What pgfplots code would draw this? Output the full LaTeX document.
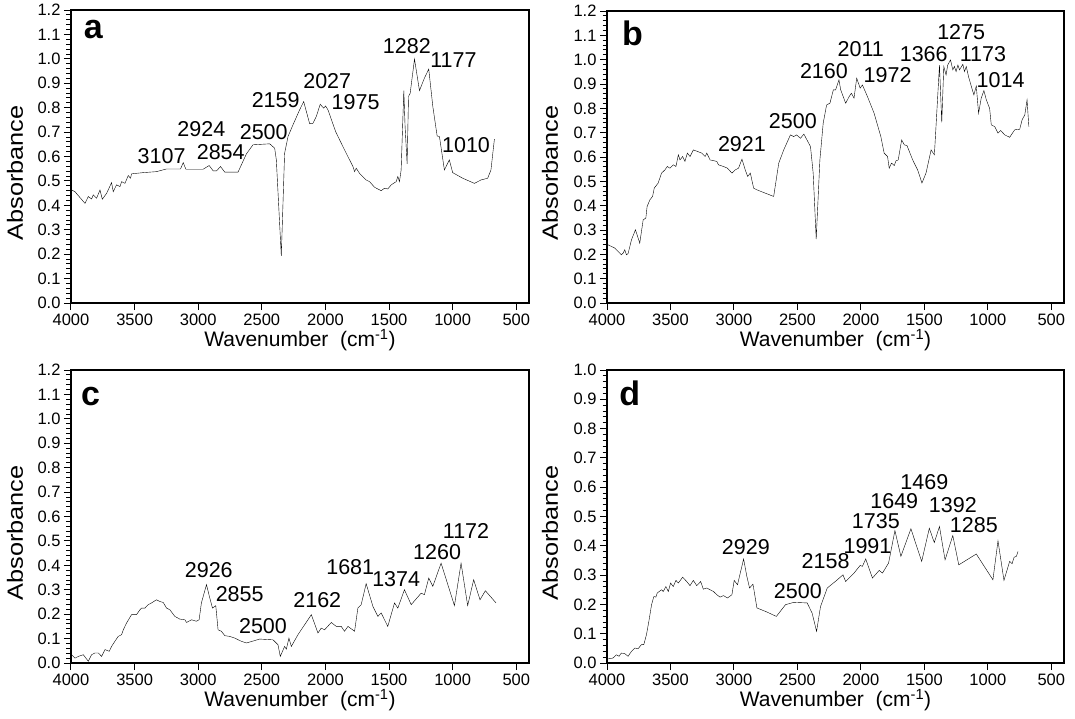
\documentclass[border=0pt]{standalone}
\usepackage{fontspec}
\setmainfont{Liberation Sans}
\usepackage{graphicx}
\usepackage{pgfplots}
\pgfplotsset{compat=1.18}

\newcommand\fsz[1]{\fontsize{#1}{#1}\selectfont}

\pgfplotsset{
  ftir/.style={
    scale only axis, width=458pt, height=293pt,
    x dir=reverse, xmin=400, xmax=4000, ymin=0,
    xtick={500,1000,...,4000},
    tick align=outside, xtick pos=bottom, ytick pos=left,
    major tick length=7pt, minor tick length=4.5pt,
    every major tick/.style={black, line width=1pt},
    every minor tick/.style={black, line width=0.9pt},
    axis line style={line width=1.3pt},
    tick label style={font=\fsz{16.5}},
    /pgf/number format/assume math mode=true,
    xticklabel style={/pgf/number format/1000 sep={}},
    yticklabel style={/pgf/number format/.cd, fixed, fixed zerofill, precision=1},
    cycle list={{black, line width=1.1pt, line join=round, mark=none}},
    clip=false,
  },
}
\tikzset{
  pk/.style={font=\fsz{21.5}, inner sep=0pt},
  plet/.style={font=\fsz{34}\bfseries, inner sep=0pt},
}

\begin{document}
\begin{tikzpicture}
\path[use as bounding box] (0,0) rectangle (1075pt,-718pt);

% ---- a ----
\begin{axis}[ftir, at={(71pt,-303pt)}, ymax=1.2, ytick={0,0.1,...,1.2}, minor ytick={0.02,0.04,...,1.19}]
\addplot coordinates {(3995,0.463) (3969,0.456) (3890,0.408) (3864,0.436) (3838,0.426) (3825,0.443) (3799,0.429) (3772,0.463) (3754,0.425) (3720,0.449) (3681,0.493) (3668,0.456) (3642,0.484) (3615,0.477) (3602,0.497) (3576,0.490) (3550,0.522) (3532,0.511) (3524,0.529) (3432,0.534) (3328,0.538) (3249,0.549) (3139,0.549) (3118,0.575) (3097,0.548) (2961,0.548) (2914,0.563) (2882,0.541) (2856,0.541) (2825,0.559) (2791,0.536) (2687,0.536) (2621,0.611) (2569,0.648) (2438,0.652) (2399,0.634) (2386,0.586) (2347,0.193) (2321,0.613) (2294,0.682) (2255,0.730) (2203,0.791) (2171,0.825) (2124,0.734) (2098,0.736) (2072,0.764) (2041,0.814) (2014,0.798) (1999,0.807) (1980,0.791) (1920,0.702) (1863,0.641) (1784,0.559) (1771,0.538) (1758,0.552) (1732,0.531) (1680,0.504) (1653,0.497) (1614,0.474) (1562,0.460) (1536,0.470) (1510,0.467) (1483,0.484) (1444,0.497) (1431,0.518) (1418,0.497) (1405,0.545) (1384,0.870) (1374,0.723) (1358,0.570) (1347,0.846) (1334,0.859) (1300,0.999) (1261,0.870) (1222,0.921) (1188,0.958) (1156,0.805) (1122,0.684) (1104,0.682) (1065,0.545) (1026,0.586) (1000,0.534) (921,0.511) (829,0.490) (777,0.504) (725,0.511) (699,0.545) (672,0.671)};
\node[plet] at (axis cs:3825,1.119) {a};
\node[pk] at (axis cs:3288,0.600) {3107};
\node[pk] at (axis cs:2975,0.712) {2924};
\node[pk] at (axis cs:2823,0.620) {2854};
\node[pk] at (axis cs:2485,0.702) {2500};
\node[pk] at (axis cs:2391,0.832) {2159};
\node[pk] at (axis cs:1986,0.907) {2027};
\node[pk] at (axis cs:1763,0.821) {1975};
\node[pk] at (axis cs:1360,1.053) {1282};
\node[pk] at (axis cs:994,0.993) {1177};
\node[pk] at (axis cs:895,0.648) {1010};
\end{axis}

% ---- b ----
\begin{axis}[ftir, at={(607pt,-303pt)}, width=457pt, height=292pt, ymax=1.2, ytick={0,0.1,...,1.2}, minor ytick={0.02,0.04,...,1.19}]
\addplot coordinates {(3992,0.239) (3939,0.226) (3887,0.198) (3873,0.205) (3860,0.219) (3847,0.198) (3834,0.203) (3807,0.260) (3776,0.301) (3742,0.246) (3715,0.342) (3694,0.349) (3684,0.397) (3662,0.424) (3641,0.438) (3628,0.472) (3597,0.493) (3570,0.534) (3544,0.547) (3525,0.561) (3504,0.554) (3478,0.568) (3457,0.561) (3438,0.609) (3425,0.588) (3404,0.602) (3386,0.582) (3367,0.616) (3346,0.602) (3320,0.629) (3288,0.623) (3254,0.616) (3227,0.602) (3214,0.616) (3188,0.588) (3135,0.582) (3122,0.568) (3082,0.561) (3051,0.554) (3016,0.534) (2990,0.547) (2964,0.554) (2937,0.591) (2911,0.547) (2892,0.520) (2871,0.534) (2845,0.472) (2819,0.465) (2766,0.454) (2687,0.438) (2647,0.575) (2608,0.629) (2555,0.691) (2529,0.684) (2507,0.691) (2476,0.677) (2449,0.694) (2397,0.643) (2376,0.534) (2352,0.263) (2323,0.588) (2297,0.739) (2270,0.814) (2244,0.821) (2217,0.876) (2199,0.876) (2186,0.896) (2173,0.917) (2159,0.876) (2120,0.821) (2093,0.848) (2075,0.862) (2054,0.842) (2033,0.924) (2006,0.883) (1988,0.896) (1948,0.848) (1896,0.780) (1843,0.684) (1817,0.616) (1790,0.602) (1777,0.554) (1759,0.575) (1737,0.565) (1724,0.584) (1706,0.588) (1679,0.670) (1658,0.650) (1637,0.647) (1592,0.588) (1553,0.547) (1519,0.493) (1487,0.534) (1447,0.629) (1421,0.609) (1381,0.978) (1363,0.742) (1347,0.972) (1329,0.937) (1316,0.978) (1294,0.999) (1276,0.958) (1263,0.972) (1250,0.951) (1236,0.978) (1223,0.958) (1197,0.981) (1184,0.951) (1170,0.972) (1152,0.930) (1126,0.883) (1110,0.855) (1091,0.892) (1073,0.780) (1052,0.842) (1031,0.873) (1012,0.835) (986,0.800) (973,0.732) (946,0.725) (920,0.698) (899,0.709) (867,0.691) (828,0.681) (788,0.712) (749,0.714) (730,0.753) (709,0.773) (691,0.835) (677,0.725)};
\node[plet] at (axis cs:3800,1.108) {b};
\node[pk] at (axis cs:2937,0.654) {2921};
\node[pk] at (axis cs:2536,0.746) {2500};
\node[pk] at (axis cs:2291,0.955) {2160};
\node[pk] at (axis cs:2001,1.043) {2011};
\node[pk] at (axis cs:1790,0.937) {1972};
\node[pk] at (axis cs:1505,1.024) {1366};
\node[pk] at (axis cs:1210,1.112) {1275};
\node[pk] at (axis cs:1039,1.024) {1173};
\node[pk] at (axis cs:899,0.917) {1014};
\end{axis}

% ---- c ----
\begin{axis}[ftir, at={(71pt,-663pt)}, ymax=1.2, ytick={0,0.1,...,1.2}, minor ytick={0.02,0.04,...,1.19}]
\addplot coordinates {(3995,0.034) (3969,0.020) (3942,0.027) (3903,0.034) (3864,0.007) (3838,0.034) (3812,0.041) (3785,0.041) (3759,0.027) (3733,0.055) (3699,0.048) (3681,0.068) (3655,0.089) (3629,0.109) (3602,0.116) (3589,0.136) (3563,0.164) (3524,0.198) (3485,0.198) (3458,0.218) (3445,0.225) (3419,0.225) (3393,0.239) (3367,0.246) (3328,0.259) (3302,0.252) (3275,0.248) (3249,0.225) (3223,0.218) (3184,0.191) (3145,0.180) (3105,0.177) (3092,0.166) (3053,0.177) (3014,0.171) (2993,0.177) (2975,0.246) (2935,0.321) (2909,0.266) (2888,0.225) (2862,0.235) (2844,0.136) (2818,0.130) (2791,0.112) (2752,0.109) (2713,0.102) (2661,0.089) (2621,0.082) (2517,0.098) (2412,0.095) (2373,0.075) (2355,0.027) (2321,0.068) (2307,0.057) (2287,0.102) (2268,0.068) (2216,0.116) (2111,0.198) (2059,0.123) (2033,0.143) (2007,0.136) (1954,0.166) (1915,0.150) (1876,0.150) (1850,0.130) (1823,0.150) (1771,0.130) (1745,0.225) (1719,0.239) (1680,0.325) (1627,0.232) (1588,0.191) (1562,0.205) (1510,0.150) (1457,0.246) (1431,0.225) (1379,0.300) (1326,0.239) (1248,0.286) (1222,0.280) (1188,0.348) (1156,0.314) (1091,0.409) (986,0.235) (934,0.409) (882,0.235) (835,0.341) (785,0.259) (743,0.296) (659,0.246)};
\node[plet] at (axis cs:3846,1.090) {c};
\node[pk] at (axis cs:2917,0.379) {2926};
\node[pk] at (axis cs:2674,0.282) {2855};
\node[pk] at (axis cs:2491,0.150) {2500};
\node[pk] at (axis cs:2064,0.256) {2162};
\node[pk] at (axis cs:1805,0.393) {1681};
\node[pk] at (axis cs:1444,0.344) {1374};
\node[pk] at (axis cs:1122,0.453) {1260};
\node[pk] at (axis cs:895,0.542) {1172};
\end{axis}

% ---- d ----
\begin{axis}[ftir, at={(607pt,-663pt)}, width=457pt, ymax=1.0, ytick={0,0.1,...,1.0}, minor ytick={0.02,0.04,...,0.99}]
\addplot coordinates {(3992,0.014) (3953,0.017) (3926,0.028) (3905,0.023) (3887,0.034) (3860,0.032) (3834,0.023) (3807,0.040) (3781,0.051) (3755,0.049) (3728,0.063) (3710,0.063) (3689,0.097) (3668,0.148) (3649,0.199) (3631,0.227) (3615,0.225) (3604,0.239) (3589,0.244) (3570,0.250) (3557,0.244) (3536,0.261) (3517,0.244) (3499,0.273) (3478,0.261) (3457,0.282) (3438,0.273) (3404,0.293) (3372,0.278) (3346,0.264) (3320,0.282) (3293,0.264) (3262,0.278) (3241,0.252) (3214,0.256) (3188,0.250) (3161,0.244) (3135,0.233) (3109,0.225) (3082,0.230) (3051,0.222) (3016,0.233) (2998,0.282) (2972,0.267) (2924,0.355) (2898,0.295) (2877,0.256) (2850,0.269) (2819,0.188) (2740,0.174) (2666,0.159) (2594,0.199) (2529,0.207) (2423,0.205) (2384,0.170) (2349,0.108) (2318,0.193) (2265,0.256) (2225,0.270) (2186,0.284) (2141,0.301) (2120,0.278) (2054,0.307) (2006,0.333) (1988,0.330) (1962,0.355) (1909,0.290) (1856,0.316) (1830,0.307) (1795,0.332) (1782,0.341) (1732,0.452) (1685,0.364) (1606,0.458) (1521,0.347) (1461,0.460) (1422,0.411) (1381,0.466) (1337,0.352) (1276,0.435) (1229,0.335) (1091,0.372) (960,0.284) (920,0.417) (873,0.282) (828,0.347) (809,0.339) (793,0.361) (775,0.364) (762,0.381)};
\node[plet] at (axis cs:3821,0.920) {d};
\node[pk] at (axis cs:2906,0.395) {2929};
\node[pk] at (axis cs:2497,0.244) {2500};
\node[pk] at (axis cs:2278,0.347) {2158};
\node[pk] at (axis cs:1948,0.400) {1991};
\node[pk] at (axis cs:1882,0.483) {1735};
\node[pk] at (axis cs:1737,0.553) {1649};
\node[pk] at (axis cs:1500,0.619) {1469};
\node[pk] at (axis cs:1276,0.540) {1392};
\node[pk] at (axis cs:1110,0.469) {1285};
\end{axis}

% axis titles
\foreach \xx/\yy in {300/-340, 835.5/-340, 300/-700, 835.5/-700}
  \node[font=\fsz{21}, inner sep=0pt] at (\xx pt,\yy pt) {Wavenumber\ \ (cm\textsuperscript{-1})};
\foreach \xx/\yy in {15/-173, 550/-173, 15/-533, 550/-533}
  \node[font=\fsz{22}, inner sep=0pt, rotate=90] at (\xx pt,\yy pt) {\scalebox{1.15}[1]{Absorbance}};
\end{tikzpicture}
\end{document}
